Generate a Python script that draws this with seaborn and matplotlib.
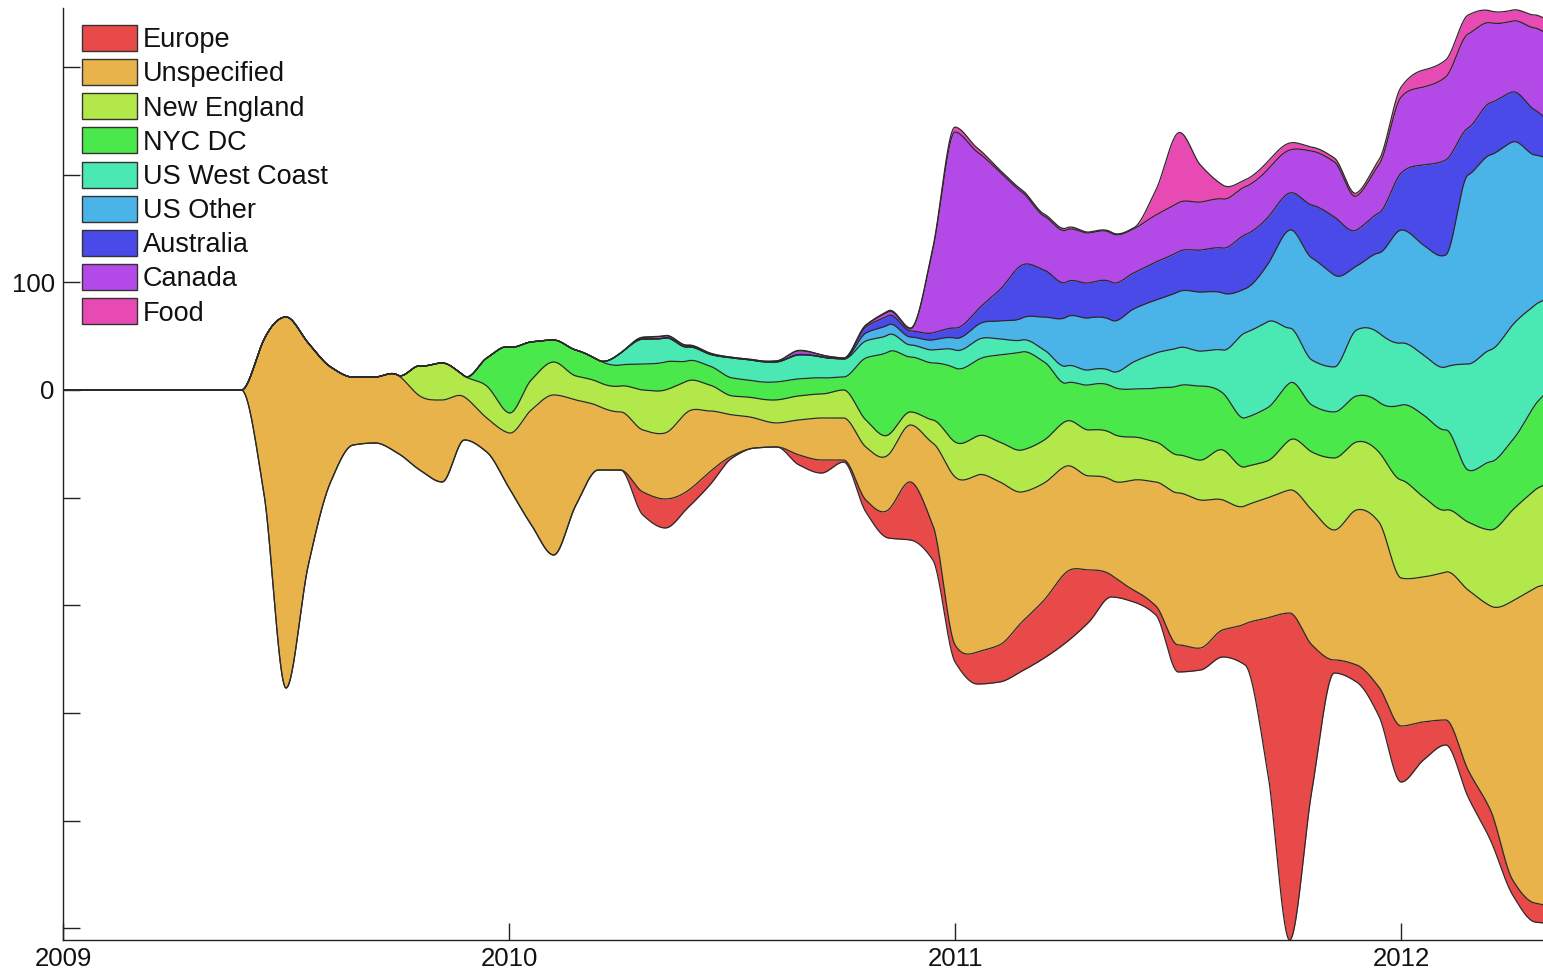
import numpy as np
import matplotlib
matplotlib.use("Agg")
import matplotlib.pyplot as plt
from matplotlib.patches import Patch
import seaborn as sns

# ---------------- data ----------------
years = [2009.00, 2009.40, 2009.45, 2009.50, 2009.55, 2009.60, 2009.65, 2009.70, 2009.75, 2009.80,
         2009.85, 2009.90, 2009.95, 2010.00, 2010.05, 2010.10, 2010.15, 2010.20, 2010.25, 2010.30,
         2010.35, 2010.40, 2010.45, 2010.50, 2010.55, 2010.60, 2010.65, 2010.70, 2010.75, 2010.80,
         2010.85, 2010.90, 2010.95, 2011.00, 2011.05, 2011.10, 2011.15, 2011.20, 2011.25, 2011.30,
         2011.35, 2011.40, 2011.45, 2011.50, 2011.55, 2011.60, 2011.65, 2011.70, 2011.75, 2011.80,
         2011.85, 2011.90, 2011.95, 2012.00, 2012.05, 2012.10, 2012.15, 2012.20, 2012.25, 2012.30,
         2012.32]

# lower edge of the stream (bottom of the first layer)
baseline = [0, 0, -94.7, -276.7, -162.5, -85.4, -51.1, -49.2, -58.5, -74.3,
            -85.4, -46.4, -57.6, -91.0, -125.3, -153.2, -106.8, -74.3, -74.3, -116.1,
            -128.1, -109.6, -88.2, -63.1, -53.9, -52.9, -69.6, -77.1, -66.9, -113.3,
            -137.4, -139.3, -157.8, -252.6, -273.0, -271.1, -260.9, -248.8, -234.0, -215.4,
            -192.2, -196.8, -208.9, -261.8, -260.0, -247.9, -255.3, -352.8, -510.7, -371.4,
            -262.8, -271.1, -302.7, -364.0, -343.5, -329.6, -377.9, -417.8, -468.9, -494.0,
            -494.9]

europe = [0, 0, 0, 0, 0, 0, 0, 0, 0, 0,
          0, 0, 0, 0, 0, 0, 0, 0, 0, 21.4,
          26.9, 15.8, 12.1, 1.9, 0, 0, 9.3, 12.1, 1.9, 11.1,
          26.0, 53.9, 32.5, 15.8, 29.7, 34.4, 45.5, 53.9, 65.0, 48.3,
          20.4, 11.1, 8.4, 25.1, 20.4, 25.1, 38.1, 141.1, 303.6, 134.6,
          12.1, 15.8, 26.9, 52.0, 35.3, 23.2, 25.1, 27.9, 13.9, 17.6,
          16.7]

unspecified = [0, 0, 141.1, 344.5, 206.1, 106.8, 63.1, 61.3, 72.4, 68.7,
               76.1, 39.9, 31.6, 51.1, 106.8, 148.6, 97.5, 59.4, 53.9, 57.6,
               61.3, 73.4, 56.6, 38.1, 27.9, 22.3, 32.5, 39.0, 39.0, 49.2,
               51.1, 52.9, 76.1, 156.0, 164.3, 151.3, 120.7, 108.6, 98.4, 87.3,
               88.2, 102.1, 115.1, 141.1, 137.4, 120.7, 109.6, 111.4, 114.2, 125.3,
               120.7, 143.9, 153.2, 137.4, 134.6, 137.4, 167.1, 189.4, 259.1, 292.5,
               297.1]

new_england = [0, 0, 0, 0, 0, 0, 0, 0, 0, 27.9,
               34.4, 19.5, 29.7, 18.6, 27.9, 30.6, 22.3, 22.3, 24.1, 37.1,
               39.9, 28.8, 24.1, 17.6, 18.6, 21.4, 22.3, 22.3, 26.0, 25.1,
               18.6, 12.1, 21.4, 32.5, 36.2, 37.1, 39.0, 39.9, 41.8, 42.7,
               43.6, 39.9, 37.1, 35.3, 37.1, 46.4, 36.2, 34.4, 46.4, 53.9,
               66.9, 63.1, 65.0, 91.0, 74.3, 57.6, 63.1, 70.6, 84.5, 91.0,
               92.9]

nyc_dc = [0, 0, 0, 0, 0, 0, 0, 0, 0, 0,
          0, 0, 26.0, 61.3, 35.3, 20.4, 24.1, 20.4, 19.5, 24.1,
          26.0, 18.6, 17.6, 16.7, 15.8, 16.7, 15.8, 14.9, 12.1, 57.6,
          77.1, 51.1, 52.9, 68.7, 70.6, 80.8, 91.0, 72.4, 35.3, 41.8,
          43.6, 44.6, 50.1, 64.1, 68.7, 52.9, 45.5, 49.2, 52.9, 43.6,
          42.7, 42.7, 46.4, 69.6, 76.1, 74.3, 48.3, 63.1, 65.0, 78.9,
          83.6]

us_west_coast = [0, 0, 0, 0, 0, 0, 0, 0, 0, 0,
                 0, 0, 0, 0, 0, 0, 0, 0, 11.1, 23.2,
                 22.3, 13.0, 11.1, 18.6, 19.0, 18.6, 22.3, 19.5, 16.7, 15.8,
                 15.8, 11.1, 12.1, 16.7, 18.6, 14.9, 11.1, 11.1, 15.8, 13.9,
                 13.9, 25.1, 32.5, 35.3, 32.5, 39.9, 78.9, 79.9, 51.1, 41.8,
                 41.8, 61.3, 64.1, 57.6, 55.7, 58.5, 98.4, 104.0, 106.8, 92.9,
                 88.2]

us_other = [0, 0, 0, 0, 0, 0, 0, 0, 0, 0,
            0, 0, 0, 0, 0, 0, 0, 0, 0, 0,
            0, 0, 0, 0, 0, 0, 0, 0, 0, 7.4,
            9.3, 7.4, 9.3, 11.1, 13.9, 16.7, 20.4, 30.6, 45.5, 48.3,
            47.4, 49.2, 49.2, 52.0, 54.8, 52.9, 40.9, 52.9, 91.0, 94.7,
            85.4, 59.4, 74.3, 104.9, 102.1, 104.0, 175.5, 181.1, 169.9, 139.3,
            132.8]

australia = [0, 0, 0, 0, 0, 0, 0, 0, 0, 0,
             0, 0, 0, 0, 0, 0, 0, 0, 0, 0,
             0, 0, 0, 0, 0, 0, 0.5, 0, 0, 5.6,
             8.4, 5.6, 6.5, 9.3, 13.9, 28.8, 49.2, 43.6, 32.5, 32.5,
             35.3, 33.4, 35.3, 37.1, 39.0, 41.8, 50.1, 43.6, 34.4, 49.2,
             53.9, 33.4, 37.1, 52.9, 74.3, 88.2, 43.6, 48.3, 46.4, 41.8,
             37.1]

canada = [0, 0, 0, 0, 0, 0, 0, 0, 0, 0,
          0, 0, 0, 0, 0, 0, 0, 0, 0, 1.4,
          1.9, 1.4, 0.9, 0.5, 0.5, 0.9, 3.2, 1.9, 0.9, 1.4,
          3.7, 1.9, 77.1, 182.0, 146.7, 109.6, 67.8, 50.1, 48.3, 46.4,
          45.5, 40.9, 43.6, 45.5, 44.6, 45.5, 44.6, 44.6, 39.9, 50.1,
          51.1, 31.6, 44.6, 70.6, 72.4, 77.1, 87.3, 74.3, 65.9, 76.1,
          78.9]

food = [0, 0, 0, 0, 0, 0, 0, 0, 0, 0,
        0, 0, 0, 0, 0, 0, 0, 0, 0, 0.4,
        0.4, 0.3, 0.2, 0, 0, 0, 0.5, 0, 0, 0.5,
        0.9, 0.9, 1.9, 4.6, 3.7, 1.9, 1.9, 1.9, 1.9, 0.9,
        0.9, 0.9, 23.2, 65.0, 34.4, 13.0, 6.5, 7.4, 6.5, 3.7,
        3.7, 2.8, 4.6, 9.3, 15.8, 15.8, 17.6, 11.1, 10.2, 12.1,
        13.0]

labels = ["Europe", "Unspecified", "New England", "NYC DC", "US West Coast",
          "US Other", "Australia", "Canada", "Food"]
series = [europe, unspecified, new_england, nyc_dc, us_west_coast,
          us_other, australia, canada, food]

x_ticks = [2009, 2010, 2011, 2012]
y_ticks = [-500, -400, -300, -200, -100, 0, 100, 200, 300]
y_tick_labels = {0: "0", 100: "100"}


# ---------------- smooth rendering (shape-preserving cubic) ----------------
def pchip(x, y, xq):
    x = np.asarray(x, float)
    y = np.asarray(y, float)
    h = np.diff(x)
    d = np.diff(y) / h
    n = len(x)
    m = np.zeros(n)
    for k in range(1, n - 1):
        if d[k - 1] * d[k] > 0:
            w1 = 2 * h[k] + h[k - 1]
            w2 = h[k] + 2 * h[k - 1]
            m[k] = (w1 + w2) / (w1 / d[k - 1] + w2 / d[k])
    m[0] = d[0]
    m[-1] = d[-1]
    idx = np.clip(np.searchsorted(x, xq) - 1, 0, n - 2)
    t = (xq - x[idx]) / h[idx]
    h00 = 2 * t**3 - 3 * t**2 + 1
    h10 = t**3 - 2 * t**2 + t
    h01 = -2 * t**3 + 3 * t**2
    h11 = t**3 - t**2
    return (h00 * y[idx] + h10 * h[idx] * m[idx]
            + h01 * y[idx + 1] + h11 * h[idx] * m[idx + 1])


sns.set_theme(style="white")
plt.rcParams["font.family"] = ["Liberation Sans", "DejaVu Sans"]

colors = sns.hls_palette(9, h=0.0, l=0.6, s=0.775)

W, H = 1543, 975
fig = plt.figure(figsize=(W / 100, H / 100), dpi=100)
fig.patch.set_facecolor("white")
ax = fig.add_axes([63 / W, 35 / H, 1 - 63 / W, 932 / H])
ax.set_facecolor("white")

xf = np.linspace(years[0], years[-1], 3000)
base_f = pchip(years, baseline, xf)
lower = base_f.copy()
bounds = [lower.copy()]
for vals, col in zip(series, colors):
    thick = np.clip(pchip(years, vals, xf), 0, None)
    upper = lower + thick
    ax.fill_between(xf, lower, upper, color=col, lw=0, zorder=2)
    bounds.append(upper.copy())
    lower = upper

for b in bounds:
    sns.lineplot(x=xf, y=b, color="#2a2a2a", lw=0.9, ax=ax,
                 estimator=None, sort=False, zorder=3)

ax.set_xlim(2009, 2012.318)
ax.set_ylim(-510.7, 354.7)

ax.set_xticks(x_ticks)
ax.set_xticklabels([str(t) for t in x_ticks])
ax.set_yticks(y_ticks)
ax.set_yticklabels([y_tick_labels.get(t, "") for t in y_ticks])
ax.tick_params(axis="both", direction="in", length=12, width=1.0,
               colors="#222222", labelsize=18.5, labelcolor="#111111",
               bottom=True, left=True, top=False, right=False)
ax.tick_params(axis="x", pad=5)
ax.tick_params(axis="y", pad=6)

for s in ["top", "right"]:
    ax.spines[s].set_visible(False)
for s in ["left", "bottom"]:
    ax.spines[s].set_color("#222222")
    ax.spines[s].set_linewidth(1.0)
ax.grid(False)

handles = [Patch(facecolor=c, edgecolor="#333333", lw=1.0) for c in colors]
leg = ax.legend(handles, labels, loc="upper left",
                bbox_to_anchor=(82 / W, 1 - 25 / H), bbox_transform=fig.transFigure,
                frameon=False, fontsize=19.5, borderpad=0, borderaxespad=0,
                handlelength=2.03, handleheight=1.1, handletextpad=0.22,
                labelspacing=0.22)
for t in leg.get_texts():
    t.set_color("#111111")

fig.savefig("out.png", dpi=100, facecolor="white")
